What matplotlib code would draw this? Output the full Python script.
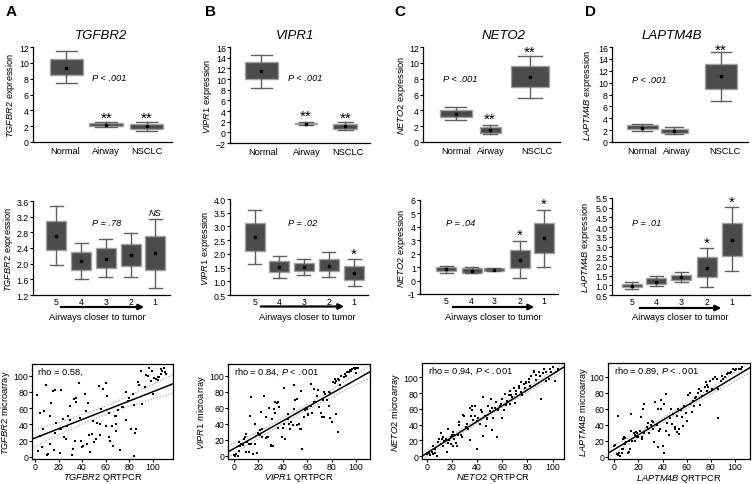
import numpy as np
import matplotlib
matplotlib.use("Agg")
import matplotlib.pyplot as plt

plt.rcParams['font.family'] = ['Liberation Sans', 'DejaVu Sans']
plt.rcParams['mathtext.fontset'] = 'custom'
plt.rcParams['mathtext.rm'] = 'Liberation Sans'
plt.rcParams['mathtext.it'] = 'Liberation Sans:italic'
plt.rcParams['mathtext.bf'] = 'Liberation Sans:bold'

# ---------------- data ----------------
genes = ['TGFBR2', 'VIPR1', 'NETO2', 'LAPTM4B']
panel_letters = ['A', 'B', 'C', 'D']
groups = ['Normal', 'Airway', 'NSCLC']
airway_cats = ['5', '4', '3', '2', '1']

# box stats: [whislo, q1, mean, q3, whishi]
tgfbr2_groups = [[7.5, 8.5, 9.4, 10.5, 11.5], [1.9, 2.0, 2.2, 2.4, 2.5], [1.4, 1.7, 2.0, 2.3, 2.5]]
vipr1_groups = [[8.4, 10.0, 11.5, 13.1, 14.5], [1.4, 1.5, 1.65, 1.8, 1.9], [0.4, 0.7, 1.1, 1.6, 1.9]]
neto2_groups = [[2.75, 3.1, 3.6, 4.0, 4.45], [1.0, 1.2, 1.5, 1.9, 2.15], [5.6, 6.9, 8.25, 9.65, 10.9]]
laptm4b_groups = [[1.8, 2.15, 2.4, 2.8, 3.1], [1.3, 1.6, 1.8, 2.15, 2.5], [6.9, 9.0, 11.1, 13.2, 15.1]]

tgfbr2_airways = [[1.97, 2.35, 2.71, 3.09, 3.47], [1.62, 1.84, 2.07, 2.30, 2.52], [1.65, 1.89, 2.13, 2.39, 2.62],
                  [1.67, 1.95, 2.23, 2.51, 2.79], [1.39, 1.84, 2.27, 2.71, 3.13]]
vipr1_airways = [[1.63, 2.12, 2.6, 3.11, 3.6], [1.12, 1.33, 1.53, 1.75, 1.93], [1.23, 1.36, 1.51, 1.65, 1.81],
                 [1.14, 1.36, 1.57, 1.81, 2.06], [0.82, 1.06, 1.3, 1.57, 1.81]]
neto2_airways = [[0.6, 0.68, 0.85, 0.98, 1.05], [0.53, 0.6, 0.73, 0.9, 0.98], [0.68, 0.73, 0.8, 0.9, 0.96],
                 [0.16, 0.9, 1.55, 2.29, 2.96], [1.03, 2.09, 3.16, 4.27, 5.26]]
laptm4b_airways = [[0.81, 0.9, 0.98, 1.07, 1.16], [0.95, 1.07, 1.19, 1.36, 1.5], [1.19, 1.29, 1.41, 1.53, 1.67],
                   [0.93, 1.41, 1.9, 2.45, 2.93], [1.72, 2.5, 3.36, 4.22, 5.03]]

group_p = ['P < .001', 'P < .001', 'P < .001', 'P < .001']
airway_p = ['P = .78', 'P = .02', 'P = .04', 'P = .01']
rho_vals = ['0.58', '0.84', '0.94', '0.89']
rho_p = ['', '.001', '.001', '.001']

# fitted regression line (intercept, slope)
fit_lines = [(23.3, 0.57), (9.0, 0.86), (4.0, 1.0), (9.0, 0.91)]

# scatter points (QRTPCR rank, microarray rank)
tgfbr2_pts = [(2,76),(4,26),(4,54),(3,7),(6,12),(7,34),(8,57),(9,88),(10,2),(11,4),(13,16),(13,51),(14,67),
              (15,81),(17,30),(17,82),(16,9),(18,42),(21,34),(21,5),(22,83),(22,34),(24,47),(25,24),(26,22),
              (27,38),(28,51),(30,63),(30,46),(31,3),(32,10),(33,71),(34,20),(35,72),(35,68),(37,91),(38,48),
              (39,20),(40,12),(41,14),(42,77),(43,57),(44,16),(45,66),(46,27),(47,6),(48,28),(49,44),(50,19),
              (52,22),(53,42),(54,87),(55,27),(55,40),(56,59),(58,84),(60,91),(60,38),(61,75),(63,54),(63,25),
              (64,20),(65,38),(66,14),(68,50),(69,41),(69,50),(69,32),(70,58),(72,9),(74,62),(75,61),(77,80),
              (77,46),(79,69),(80,72),(81,34),(83,78),(84,64),(84,1),(85,30),(86,35),(87,92),(88,88),(90,106),
              (91,65),(93,86),(94,101),(96,100),(97,109),(98,93),(99,106),(100,77),(101,97),(103,96),(104,95),
              (105,98),(107,102),(108,106),(109,109),(110,105),(111,102),(104,99),(107,108)]
vipr1_pts = [(0,1),(1,0),(1,1),(2,2),(3,0),(4,6),(5,12),(4,17),(6,15),(7,13),(8,21),(9,23),(10,5),(10,27),
             (11,17),(12,5),(12,15),(13,50),(14,73),(14,15),(16,2),(17,40),(17,15),(19,3),(20,29),(21,32),
             (21,26),(22,55),(23,33),(23,23),(25,74),(26,48),(26,22),(27,24),(28,24),(29,60),(30,14),(30,12),
             (31,46),(32,12),(33,58),(34,53),(34,67),(35,66),(36,67),(36,35),(37,61),(39,24),(40,35),(41,40),
             (41,84),(42,21),(44,52),(44,46),(45,40),(46,33),(47,42),(48,38),(49,88),(49,58),(50,69),(52,71),
             (52,38),(53,40),(54,33),(55,81),(55,34),(56,9),(57,48),(58,57),(59,59),(60,58),(61,52),(61,51),
             (63,62),(63,90),(64,54),(66,67),(66,83),(67,67),(68,74),(69,82),(70,61),(71,54),(72,48),(73,69),
             (74,48),(74,79),(75,77),(76,70),(78,62),(78,79),(79,78),(80,42),(81,92),(83,91),(83,96),(84,52),
             (84,93),(85,96),(86,95),(87,88),(88,100),(90,98),(91,102),(92,100),(93,104),(94,105),(95,107),
             (96,106),(97,108),(98,109),(99,108),(100,109),(100,103),(101,109),(102,110),(85,30),(79,47)]
neto2_pts = [(0,3),(2,4),(3,2),(4,6),(5,3),(5,13),(7,4),(7,9),(8,1),(9,18),(10,22),(11,30),(11,16),(12,22),
             (13,13),(13,24),(14,19),(15,20),(15,22),(16,6),(17,17),(17,35),(18,20),(19,24),(19,16),(20,27),
             (21,31),(21,13),(22,27),(22,22),(23,17),(24,13),(25,27),(26,39),(26,43),(27,27),(28,24),(29,52),
             (30,51),(31,37),(32,41),(33,35),(34,20),(34,61),(35,51),(36,64),(36,58),(37,46),(38,63),(38,51),
             (40,45),(40,9),(41,48),(42,41),(43,58),(44,56),(45,26),(45,75),(46,51),(47,38),(48,49),(48,47),
             (49,64),(50,57),(51,73),(52,61),(52,33),(53,48),(54,61),(55,69),(56,24),(57,58),(58,63),(59,66),
             (60,72),(60,48),(61,59),(62,79),(63,65),(64,70),(65,77),(66,66),(66,83),(67,77),(68,75),(69,86),
             (70,68),(71,83),(71,79),(73,89),(73,87),(75,94),(75,81),(76,77),(77,91),(78,86),(79,94),(79,93),
             (81,94),(81,98),(82,89),(83,101),(85,106),(85,108),(87,103),(87,96),(89,107),(90,102),(91,72),
             (92,105),(93,110),(95,95),(95,107),(97,98),(98,111),(99,107),(100,113),(102,95),(103,107),(104,110)]
laptm4b_pts = [(0,13),(1,15),(2,3),(3,51),(3,2),(4,5),(5,1),(6,10),(6,5),(7,22),(7,10),(8,24),(9,23),(9,16),
               (10,18),(11,5),(12,6),(12,20),(13,10),(14,32),(14,53),(15,19),(16,29),(17,20),(17,27),(18,31),
               (19,30),(19,25),(20,24),(21,32),(22,49),(23,25),(23,22),(24,60),(25,66),(25,30),(27,37),(28,35),
               (28,42),(29,30),(30,39),(31,45),(32,35),(32,43),(33,18),(34,68),(35,39),(36,59),(36,12),(37,32),
               (38,35),(39,60),(39,71),(40,13),(41,66),(41,5),(43,78),(43,32),(44,42),(45,27),(46,48),(47,60),
               (48,41),(49,53),(50,35),(50,37),(52,31),(52,51),(53,60),(54,35),(54,28),(55,58),(56,49),(57,38),
               (58,63),(59,54),(60,45),(61,77),(63,80),(63,66),(64,56),(65,70),(66,63),(67,73),(68,74),(69,79),
               (70,84),(71,64),(72,82),(73,76),(75,87),(76,93),(77,90),(77,82),(78,87),(79,94),(81,84),(82,97),
               (83,99),(85,97),(86,85),(86,48),(88,95),(89,101),(90,97),(92,99),(93,103),(94,105),(96,105),
               (97,106),(98,110),(100,108),(101,110),(103,110),(105,109),(106,112)]

row1_data = [tgfbr2_groups, vipr1_groups, neto2_groups, laptm4b_groups]
row2_data = [tgfbr2_airways, vipr1_airways, neto2_airways, laptm4b_airways]
row3_data = [tgfbr2_pts, vipr1_pts, neto2_pts, laptm4b_pts]

# ---------------- layout (pixels) ----------------
W, H = 752, 485
fig = plt.figure(figsize=(W / 100, H / 100), dpi=100)


def add_ax(l, t, r, b):
    return fig.add_axes([l / W, 1 - b / H, (r - l) / W, (b - t) / H])


def ftext(x, y, s, **kw):
    fig.text(x / W, 1 - y / H, s, **kw)


BOX_FC = '#4b4b4b'
BOX_EC = '#a0a0a0'
WH_C = '#606060'

row1_axes = [(33, 48, 172, 143), (230, 48, 370, 144), (423, 48, 560, 143), (612, 48, 748, 143)]
row1_pos = [[66.3, 106.3, 146.7], [261.3, 305.8, 345.3], [455.8, 490, 530], [642, 674, 721]]
row1_w = [[33, 34, 33], [33, 22, 24], [32, 21, 38], [31, 27, 32]]
row1_lab = [[65, 106, 147], [263, 307, 348], [456, 491, 537], [642, 677, 725]]
row1_ylim = [(0, 12), (-2, 16), (0, 12), (0, 16)]
row1_ptxt = [(92, 8.2), (288, 10.2), (443, 8.0), (632, 10.6)]
row1_stars = [[(106.3, 3.0), (146.7, 3.0)], [(305.8, 3.1), (345.3, 2.7)], [(490, 2.9), (530, 11.4)],
              [(721, 15.6)]]
row1_ylab_x = [11, 208, 402, 587]
row1_title_x = [101, 295, 504, 672]
letter_x = [11, 211, 400, 591]

row2_axes = [(33, 202, 170, 296), (230, 200, 368, 296), (420, 201, 558, 295), (612, 199, 750, 296)]
row2_pos = [[56.3, 81.3, 105.7, 130.7, 155], [254.7, 279.2, 303.7, 328.7, 354.2],
            [446.3, 471.7, 494, 519.7, 544], [631.7, 656, 681.3, 706.7, 731.7]]
row2_ylim = [(1.2, 3.6), (0.5, 4.0), (-1, 6), (0.5, 5.5)]
row2_yticks = [np.arange(1.2, 3.61, 0.4), np.arange(0.5, 4.01, 0.5), np.arange(-1, 6.1, 1), np.arange(0.5, 5.51, 0.5)]
row2_yfmt = ['{:.1f}', '{:.1f}', '{:.0f}', '{:.1f}']
row2_ptxt = [(107, 3.06), (303, 3.15), (461, 4.3), (647, 4.26)]
row2_marks = [[(155, 3.3, 'NS')], [(354.2, 2.0, '*')], [(519.7, 3.4, '*'), (544, 5.7, '*')],
              [(706.7, 3.2, '*'), (731.7, 5.3, '*')]]
row2_arrow = [(58, 147, 308), (258, 347, 307.5), (450, 537, 308), (637, 724, 309)]
row2_xlab_x = [97, 307, 493, 680]
row2_ylab_x = [9, 206, 402, 585]

row3_axes = [(32, 365, 173, 460), (228, 365, 370, 460), (422, 364, 564, 460), (608, 364, 750, 460)]
row3_xlim = [(-2.5, 117), (-4.9, 111.5), (-3.7, 109), (-5.2, 112.4)]
row3_ylim = [(-2.5, 114.4), (-4.1, 114.6), (-3.4, 118), (-3.0, 117)]
row3_ylab_x = [6, 202, 395, 584]

TICK_FS = 6.3
LAB_FS = 6.7


def style_open(ax):
    for s in ['top', 'right']:
        ax.spines[s].set_visible(False)
    for s in ['left', 'bottom']:
        ax.spines[s].set_linewidth(0.9)
    ax.tick_params(labelsize=TICK_FS, length=2, width=0.8, pad=1)


def make_stats(vals):
    out = []
    for lo, q1, m, q3, hi in vals:
        out.append(dict(whislo=lo, q1=q1, med=m, mean=m, q3=q3, whishi=hi, fliers=[]))
    return out


def draw_boxes(ax, vals, pos, widths):
    widths = list(widths)
    ax.bxp(make_stats(vals), positions=pos, widths=widths, capwidths=[0.65 * w for w in widths],
           patch_artist=True, showmeans=True, showfliers=False, manage_ticks=False,
           boxprops=dict(facecolor=BOX_FC, edgecolor=BOX_EC, linewidth=1.0),
           whiskerprops=dict(color=WH_C, linewidth=1.0), capprops=dict(color=WH_C, linewidth=1.0),
           medianprops=dict(linewidth=0),
           meanprops=dict(marker='s', markersize=1.6, markerfacecolor='black', markeredgecolor='black'))


for i, g in enumerate(genes):
    glab = r'$\mathit{' + g + '}$ expression'

    # ---- row 1 ----
    l, t, r, b = row1_axes[i]
    ax = add_ax(l, t, r, b)
    style_open(ax)
    draw_boxes(ax, row1_data[i], row1_pos[i], row1_w[i])
    ax.set_xlim(l, r)
    ax.set_ylim(*row1_ylim[i])
    ax.set_yticks(np.arange(row1_ylim[i][0], row1_ylim[i][1] + 0.1, 2))
    ax.set_xticks(row1_lab[i], groups)
    ax.tick_params(axis='x', length=0, pad=3, labelsize=LAB_FS)
    px, py = row1_ptxt[i]
    ax.text(px, py, group_p[i], style='italic', fontsize=LAB_FS, ha='left', va='center')
    for sx, sy in row1_stars[i]:
        ax.text(sx, sy, '**', fontsize=11, ha='center', va='center')
    ftext(row1_ylab_x[i], (t + b) / 2, glab, rotation=90, fontsize=LAB_FS, ha='center', va='center')
    ftext(row1_title_x[i], 36, g, style='italic', fontsize=9.5, ha='center', va='center')
    ftext(letter_x[i], 12, panel_letters[i], fontweight='bold', fontsize=11, ha='center', va='center')

    # ---- row 2 ----
    l, t, r, b = row2_axes[i]
    ax = add_ax(l, t, r, b)
    style_open(ax)
    draw_boxes(ax, row2_data[i], row2_pos[i], [20] * 5)
    ax.set_xlim(l, r)
    ax.set_ylim(*row2_ylim[i])
    yt = row2_yticks[i]
    ax.set_yticks(yt, [row2_yfmt[i].format(v) for v in yt])
    ax.set_xticks(row2_pos[i], airway_cats)
    ax.tick_params(axis='x', length=0, pad=1.5)
    px, py = row2_ptxt[i]
    ax.text(px, py, airway_p[i], style='italic', fontsize=LAB_FS, ha='center', va='center')
    for sx, sy, s in row2_marks[i]:
        if s == 'NS':
            ax.text(sx, sy, s, style='italic', fontsize=LAB_FS, ha='center', va='center')
        else:
            ax.text(sx, sy, s, fontsize=11, ha='center', va='center')
    x1, x2, ya = row2_arrow[i]
    fig.add_artist(matplotlib.patches.FancyArrowPatch((x1 / W, 1 - ya / H), (x2 / W, 1 - ya / H),
                                                      transform=fig.transFigure, arrowstyle='-|>',
                                                      mutation_scale=8, lw=1.6, color='black'))
    ftext(row2_xlab_x[i], 317, 'Airways closer to tumor', fontsize=LAB_FS, ha='center', va='center')
    ftext(row2_ylab_x[i], (t + b) / 2, glab, rotation=90, fontsize=LAB_FS, ha='center', va='center')

    # ---- row 3 ----
    l, t, r, b = row3_axes[i]
    ax = add_ax(l, t, r, b)
    for s in ax.spines.values():
        s.set_linewidth(0.9)
    ax.tick_params(labelsize=TICK_FS, length=2, width=0.8, pad=0.5)
    pts = np.array(row3_data[i], dtype=float)
    xs, ys = pts[:, 0], pts[:, 1]
    ax.set_xlim(*row3_xlim[i])
    ax.set_ylim(*row3_ylim[i])
    ax.set_xticks(np.arange(0, 101, 20))
    ax.set_yticks(np.arange(0, 101, 20))
    a0, b0 = fit_lines[i]
    xx = np.linspace(row3_xlim[i][0], row3_xlim[i][1], 100)
    n = len(xs)
    resid = ys - (a0 + b0 * xs)
    s_err = np.sqrt(np.sum(resid ** 2) / (n - 2))
    sxx = np.sum((xs - xs.mean()) ** 2)
    hw = 1.98 * s_err * np.sqrt(1 / n + (xx - xs.mean()) ** 2 / sxx)
    ax.plot(xx, a0 + b0 * xx + hw, ls=(0, (1, 1.2)), color='#b8b8b8', lw=1.0)
    ax.plot(xx, a0 + b0 * xx - hw, ls=(0, (1, 1.2)), color='#b8b8b8', lw=1.0)
    ax.plot(xx, a0 + b0 * xx, color='black', lw=1.1)
    ax.scatter(xs, ys, s=3.5, marker='s', color='black', linewidths=0, zorder=3)
    rt = 'rho = ' + rho_vals[i] + ','
    if rho_p[i]:
        rt += r' $\mathit{P}$ < $\mathit{' + rho_p[i] + '}$'
    ax.text(0.04, 0.92, rt, transform=ax.transAxes, fontsize=LAB_FS, ha='left', va='center')
    ftext((l + r) / 2, 478.5, r'$\mathit{' + g + '}$ QRTPCR', fontsize=LAB_FS, ha='center', va='center')
    ftext(row3_ylab_x[i], (t + b) / 2, r'$\mathit{' + g + '}$ microarray', rotation=90,
          fontsize=LAB_FS, ha='center', va='center')

fig.savefig('out.png', dpi=100)
